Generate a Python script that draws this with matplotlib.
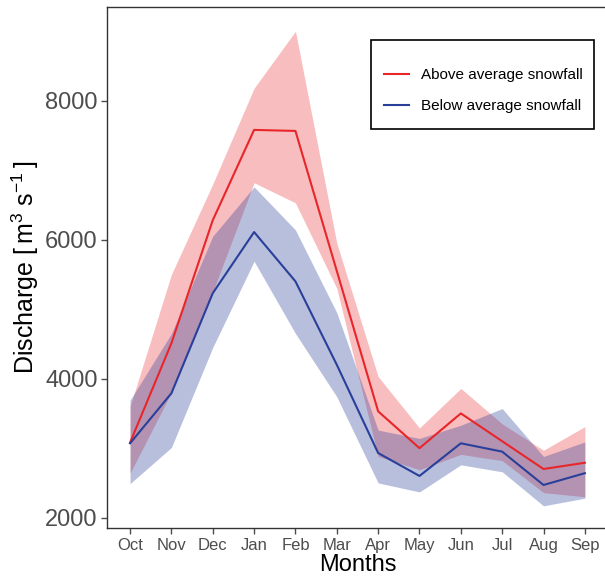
import matplotlib
matplotlib.use("Agg")
import matplotlib.pyplot as plt
from matplotlib.patches import Rectangle
import numpy as np

plt.rcParams['font.family'] = ['Liberation Sans', 'DejaVu Sans']
plt.rcParams['mathtext.default'] = 'regular'

# monthly discharge, water year Oct-Sep
months = ['Oct', 'Nov', 'Dec', 'Jan', 'Feb', 'Mar', 'Apr', 'May', 'Jun', 'Jul', 'Aug', 'Sep']

above_mean = [3080, 4510, 6280, 7580, 7565, 5550, 3530, 3000, 3500, 3100, 2700, 2790]
above_lo = [2640, 3800, 5250, 6820, 6530, 5300, 2880, 2690, 2910, 2820, 2360, 2300]
above_hi = [3600, 5500, 6800, 8180, 9000, 5950, 4030, 3290, 3860, 3350, 2970, 3310]

below_mean = [3070, 3790, 5230, 6110, 5400, 4200, 2930, 2600, 3070, 2950, 2470, 2640]
below_lo = [2490, 3010, 4450, 5690, 4650, 3740, 2500, 2370, 2760, 2660, 2170, 2280]
below_hi = [3690, 4650, 6050, 6760, 6140, 4950, 3260, 3140, 3330, 3570, 2880, 3090]

red = '#e8262a'
blue = '#2a3f9a'
grey = '#4d4d4d'

x = np.arange(len(months))

fig = plt.figure(figsize=(6.05, 5.82), dpi=100)
ax = fig.add_axes([0.1774, 0.0923, 0.8276, 0.8962])

ax.fill_between(x, above_lo, above_hi, color=red, alpha=0.3, linewidth=0)
ax.fill_between(x, below_lo, below_hi, color=blue, alpha=0.33, linewidth=0)
ax.plot(x, above_mean, color=red, lw=1.5, label='Above average snowfall')
ax.plot(x, below_mean, color=blue, lw=1.5, label='Below average snowfall')

ax.set_xlim(-0.55, 11.56)
ax.set_ylim(1847, 9353)
ax.set_xticks(x)
ax.set_xticklabels(months)
ax.set_yticks([2000, 4000, 6000, 8000])

ax.tick_params(axis='x', labelsize=12, colors=grey, length=4, width=1, pad=3)
ax.tick_params(axis='y', labelsize=17, colors=grey, length=4, width=1, pad=3)
for s in ax.spines.values():
    s.set_color('#333333')
    s.set_linewidth(1)

ax.set_xlabel('Months', fontsize=17, labelpad=1)
ax.set_ylabel(r'Discharge [$\,$m$^{3}$ s$^{-1}\,$]', fontsize=18, labelpad=3)

# legend without frame, box drawn separately (ggplot-like padding)
leg = ax.legend(loc='upper left', bbox_to_anchor=(384 / 605, 1 - 68 / 582),
                bbox_transform=fig.transFigure, borderaxespad=0, borderpad=0,
                fontsize=11, frameon=False,
                handlelength=1.65, handletextpad=0.75, labelspacing=1.12)
fig.patches.append(Rectangle((371 / 605, 1 - 129 / 582), 223 / 605, 89 / 582,
                             transform=fig.transFigure, fill=False,
                             edgecolor='black', linewidth=1.2))

fig.savefig('out.png', dpi=100)
